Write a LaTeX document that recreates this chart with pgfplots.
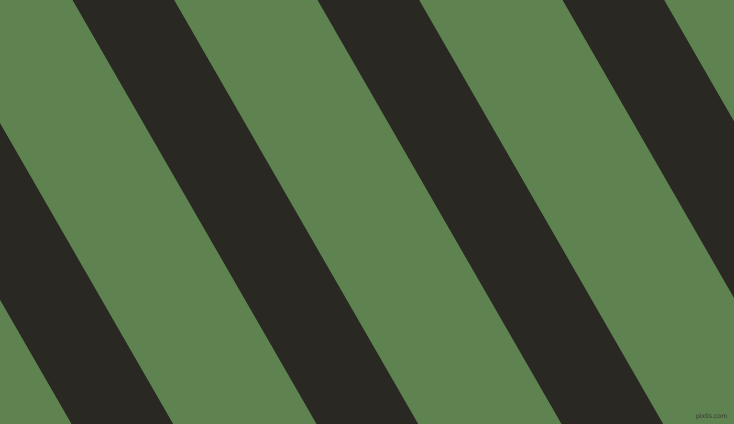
\documentclass[border=0pt]{standalone}
\usepackage{pgfplots}
\pgfplotsset{compat=1.18}
\usepackage{fontspec}
\setmainfont{DejaVu Sans}
\definecolor{leaf}{HTML}{5E8250}
\definecolor{ink}{HTML}{292822}
\begin{document}
\begin{tikzpicture}
\begin{axis}[
  scale only axis,
  width=7.34in, height=4.24in,
  xmin=0, xmax=734, ymin=0, ymax=424,
  y dir=reverse,
  hide axis,
  axis background/.style={fill=leaf},
  clip=true,
]
% dark stripes: corners at top edge and bottom edge (pixel coords)
\addplot[fill=ink, draw=none] coordinates {(-172.4,0) (-70.9,0) (173.1,424) (71.6,424)} -- cycle;
\addplot[fill=ink, draw=none] coordinates {(72.6,0) (174.1,0) (418.1,424) (316.6,424)} -- cycle;
\addplot[fill=ink, draw=none] coordinates {(317.6,0) (419.1,0) (663.1,424) (561.6,424)} -- cycle;
\addplot[fill=ink, draw=none] coordinates {(562.6,0) (664.1,0) (908.1,424) (806.6,424)} -- cycle;
\node[anchor=south east, font=\fontsize{4.5}{5}\selectfont, text=ink!80!leaf, inner sep=1pt] at (axis cs:729,421) {pixlis.com};
\end{axis}
\pgfresetboundingbox
\useasboundingbox (current axis.south west) rectangle (current axis.north east);
\end{tikzpicture}
\end{document}
